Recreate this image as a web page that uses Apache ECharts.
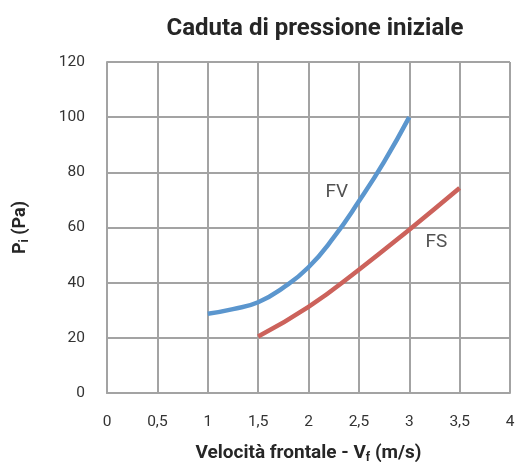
<!DOCTYPE html>
<html><head><meta charset="utf-8">
<script src="https://cdn.jsdelivr.net/npm/echarts@6/dist/echarts.min.js"></script>
<style>html,body{margin:0;padding:0;background:#fff}#c{width:517px;height:462px}</style>
</head><body><div id="c"></div>
<script>
const fvX = [1.0, 1.25, 1.5, 1.75, 2.0, 2.25, 2.5, 2.75, 3.0];
const fvY = [28.7, 30.4, 32.9, 38.2, 45.6, 56.4, 69.5, 83.8, 100];
const fsX = [1.5, 2.0, 2.5, 3.0, 3.5];
const fsY = [20.5, 31.2, 44.7, 59.2, 74.3];
const labelFV = [2.28, 72.6];
const labelFS = [3.27, 54.5];
const title = 'Caduta di pressione iniziale';

const chart = echarts.init(document.getElementById('c'), null, {renderer: 'canvas'});
const gridColor = '#a3a3a3';
const dark = '#262626';
chart.setOption({
  animation: false,
  textStyle: {fontFamily: 'Roboto'},
  title: {text: title, left: 310, top: 12, textAlign: 'center',
    textStyle: {fontSize: 24, fontWeight: 'bold', color: dark, fontFamily: 'Roboto'}},
  grid: {left: 107, right: 7, top: 62, bottom: 69, containLabel: false, outerBoundsMode: 'none'},
  xAxis: {type: 'value', min: 0, max: 4, interval: 0.5,
    axisLine: {show: true, lineStyle: {color: gridColor, width: 2}},
    axisTick: {show: false},
    splitLine: {show: true, lineStyle: {color: gridColor, width: 2}},
    axisLabel: {fontSize: 15.5, color: '#333', margin: 21, formatter: v => String(v).replace('.', ',')},
    name: '{a|Velocità frontale - V}{s|f}{a| (m/s)}', nameLocation: 'middle', nameGap: 49,
    nameTextStyle: {rich: {a: {fontSize: 19, fontWeight: 'bold', color: dark, fontFamily: 'Roboto'},
      s: {fontSize: 12, fontWeight: 'bold', color: dark, padding: [10,0,0,0], fontFamily: 'Roboto'}}}
  },
  yAxis: {type: 'value', min: 0, max: 120, interval: 20,
    axisLine: {show: true, lineStyle: {color: gridColor, width: 2}},
    axisTick: {show: false},
    splitLine: {show: true, lineStyle: {color: gridColor, width: 2}},
    axisLabel: {fontSize: 15.5, color: '#333', margin: 22},
    name: '{a|P}{s|i}{a| (Pa)}', nameLocation: 'middle', nameGap: 76, nameRotate: 90,
    nameTextStyle: {rich: {a: {fontSize: 18, fontWeight: 'bold', color: dark, fontFamily: 'Roboto'},
      s: {fontSize: 12, fontWeight: 'bold', color: dark, padding: [9,0,0,0], fontFamily: 'Roboto'}}}
  },
  series: [
    {type: 'line', smooth: 0.5, symbol: 'none', data: fvX.map((x,i)=>[x, fvY[i]]),
      lineStyle: {color: '#5B96CE', width: 4.5}},
    {type: 'line', smooth: 0.5, symbol: 'none', data: fsX.map((x,i)=>[x, fsY[i]]),
      lineStyle: {color: '#CC625B', width: 4.5}},
    {type: 'scatter', symbolSize: 0, silent: true,
      data: [{value: labelFV, name: 'FV'}, {value: labelFS, name: 'FS'}],
      label: {show: true, position: 'inside', formatter: '{b}', fontSize: 19, color: dark, fontFamily: 'Roboto'}}
  ]
});
</script></body></html>
